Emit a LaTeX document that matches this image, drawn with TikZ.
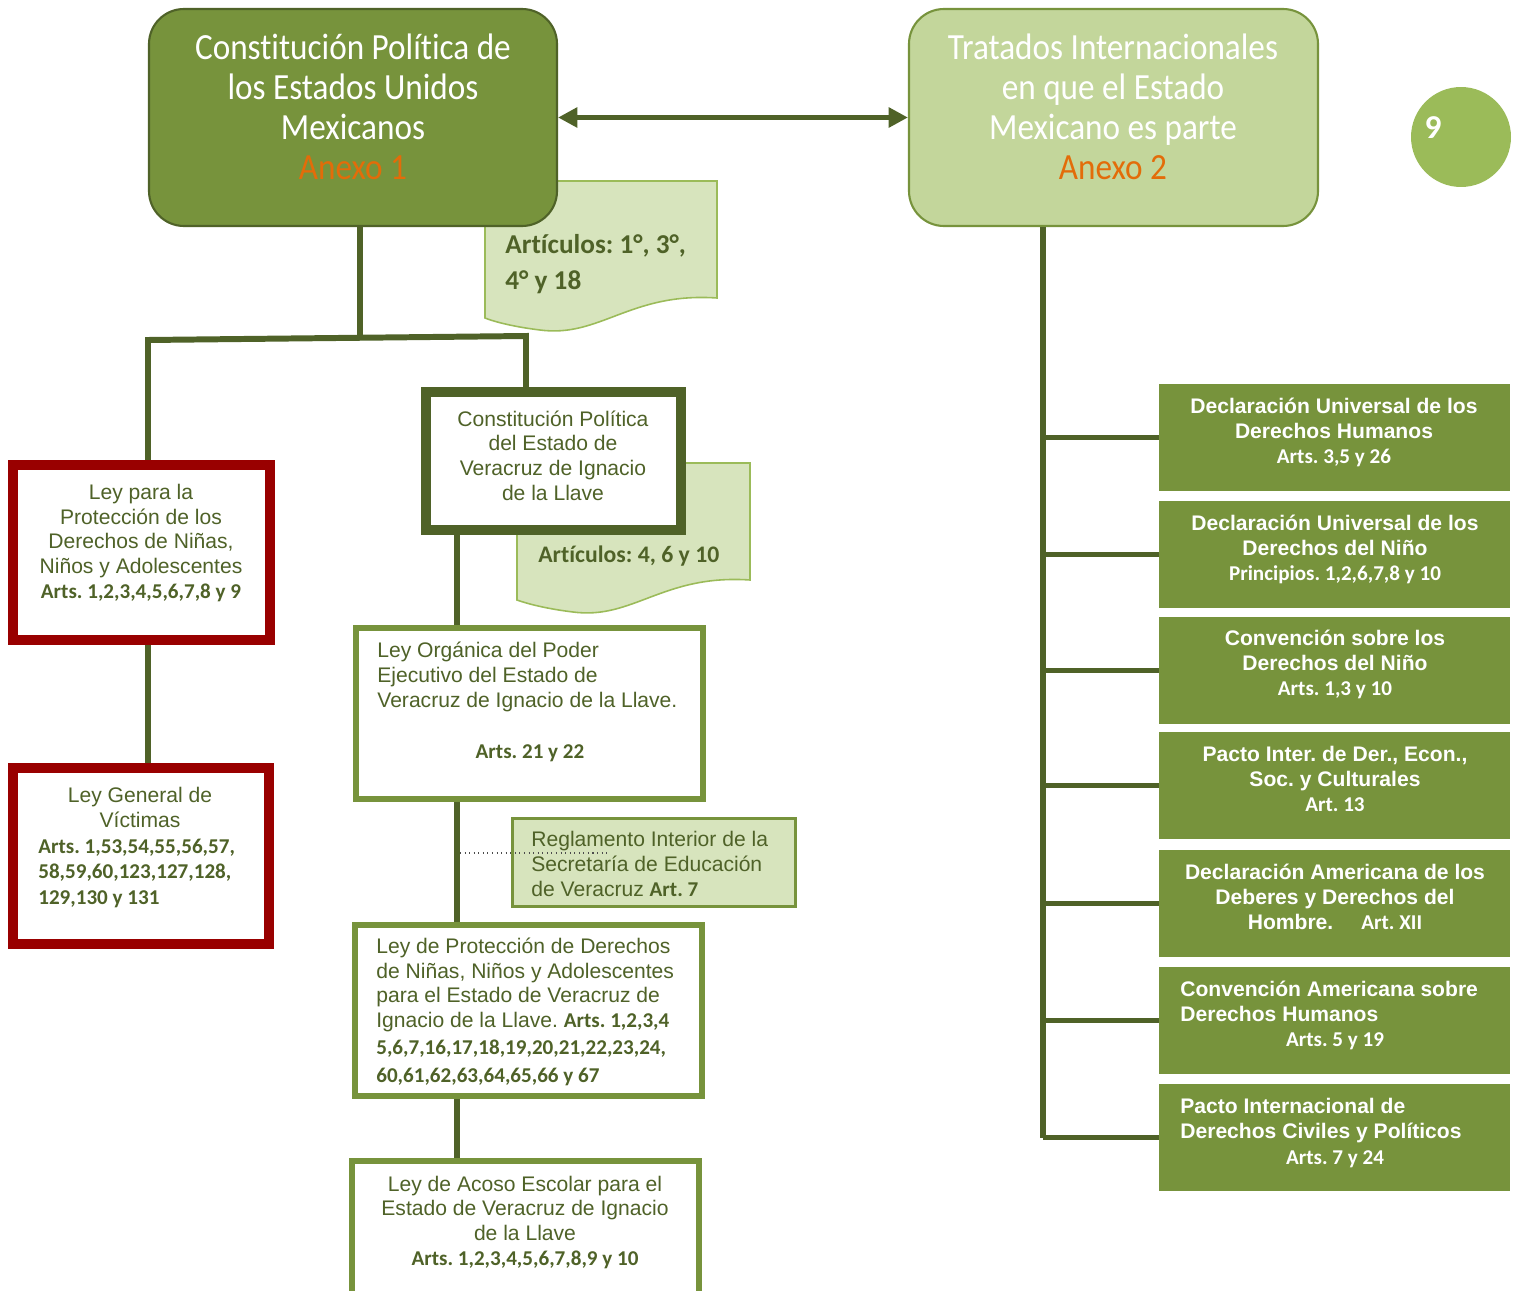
\documentclass[tikz,border=0pt]{standalone}
\usepackage{fontspec}
\setmainfont{Liberation Sans}
\newfontfamily\calfont[Ligatures=NoCommon]{Carlito}
\newfontfamily\condfont[FakeStretch=0.9,Ligatures=NoCommon]{Carlito}
\usetikzlibrary{arrows.meta,fit,positioning}
\frenchspacing

\definecolor{darkolive}{HTML}{4F6228}
\definecolor{leafgreen}{HTML}{77933C}
\definecolor{palegreen}{HTML}{C3D69B}
\definecolor{docgreen}{HTML}{D7E4BD}
\definecolor{limegreen}{HTML}{9BBB59}
\definecolor{anexo}{HTML}{E36C09}
\definecolor{lawred}{HTML}{990000}

\newcommand\artsbf[1]{{\calfont\bfseries #1}}

\tikzset{
  link/.style={draw=darkolive, line width=3.4pt},
  headbox/.style={rounded corners=0.7cm, line width=1.2pt, inner sep=0pt},
  headtxt/.style={text=white, align=center, inner sep=0pt, font=\condfont\fontsize{21}{22.7}\selectfont},
  redbox/.style={draw=lawred, line width=5.7pt, fill=white, inner sep=0pt},
  darkbox/.style={draw=darkolive, line width=5.7pt, fill=white, inner sep=0pt},
  lawbox/.style={draw=leafgreen, line width=3.2pt, fill=white, inner sep=0pt},
  lawtxt/.style={text=darkolive, align=center, inner sep=0pt, font=\fontsize{12}{14}\selectfont},
  doc/.style={fill=docgreen, draw=limegreen, line width=0.9pt},
  doctxt/.style={text=darkolive, align=left, inner sep=0pt, anchor=base west},
  treaty/.style={fill=leafgreen, minimum width=7.02cm, minimum height=2.14cm, inner sep=0pt, anchor=north west},
  treatytxt/.style={text=white, align=center, inner sep=0pt, anchor=base, font=\bfseries\fontsize{12}{14.2}\selectfont},
}

\begin{document}
\begin{tikzpicture}[x=0.02cm,y=-0.02cm]
\useasboundingbox (0,0) rectangle (1519,1291);

% hojas de articulos (detras de las cajas)
\draw[doc] (485,181) -- (717,181) -- (717,298) .. controls (630,292) and (600,338) .. (540,330) .. controls (515,327) and (495,322) .. (485,318) -- cycle;
\draw[doc] (517,463) -- (750,463) -- (750,580) .. controls (663,574) and (633,620) .. (573,612) .. controls (548,609) and (528,604) .. (517,600) -- cycle;
\node[doctxt, font=\calfont\bfseries\fontsize{15.5}{20.4}\selectfont] (art1) at (505,289) {Artículos: 1°, 3°,\\4° y 18};
\node[doctxt, font=\calfont\bfseries\fontsize{13.5}{16}\selectfont] (art2) at (538,562) {Artículos: 4, 6 y 10};

% cajas principales
\node[headbox, fill=leafgreen, draw=darkolive, fit={(149,9) (557,226)}] (cpeum) {};
\node[headbox, fill=palegreen, draw=leafgreen, fit={(909,9) (1318,226)}] (tratados) {};
\node[headtxt, anchor=base] (cpeumt) at (353,179) {Constitución Política de\\los Estados Unidos\\Mexicanos\\\textcolor{anexo}{Anexo 1}};
\node[headtxt, anchor=base] (tratadost) at (1113,179) {Tratados Internacionales\\en que el Estado\\Mexicano es parte\\\textcolor{anexo}{Anexo 2}};
\draw[link, line width=2.9pt, {Triangle[length=11pt,width=11pt]}-{Triangle[length=11pt,width=11pt]}] (cpeum.east) -- (tratados.west);

\node[circle, fill=limegreen, minimum size=2cm] (pagina) at (1461,137) {};
\node[text=white, font=\calfont\bfseries\fontsize{19}{19}\selectfont] (pnum) at (1433,128) {9};

% leyes
\node[redbox, fit={(13,465) (270,640)}] (ley1) {};
\node[redbox, fit={(13,768) (269,944)}] (vict) {};
\node[darkbox, fit={(426,392) (681,530)}] (vera) {};
\node[lawbox, fit={(356,628) (703,799)}] (organica) {};
\node[lawbox, fill=docgreen, line width=1.7pt, fit={(512.5,818.5) (795.5,906.5)}] (regla) {};
\node[lawbox, fit={(355,925) (702,1096)}] (proteccion) {};
\node[lawbox, fit={(352,1161) (699,1300)}] (acoso) {};

\node[lawtxt, anchor=base] (ley1t) at (141,598) {Ley para la\\Protección de los\\Derechos de Niñas,\\Niños y Adolescentes\\\artsbf{Arts. 1,2,3,4,5,6,7,8 y 9}};
\node[lawtxt, anchor=base] (victt) at (140,827) {Ley General de\\Víctimas};
\node[lawtxt, align=left, anchor=base west, font=\fontsize{12}{14.5}\selectfont] (victa) at (38,904) {\artsbf{Arts. 1,53,54,55,56,57,}\\\artsbf{58,59,60,123,127,128,}\\\artsbf{129,130 y 131}};
\node[lawtxt, anchor=base] (verat) at (553,500) {Constitución Política\\del Estado de\\Veracruz de Ignacio\\de la Llave};
\node[lawtxt, align=left, anchor=base west] (organicat) at (377,707) {Ley Orgánica del Poder\\Ejecutivo del Estado de\\Veracruz de Ignacio de la Llave.};
\node[lawtxt, anchor=base] (organicaa) at (530,758) {\artsbf{Arts. 21 y 22}};
\node[lawtxt, align=left, anchor=base west] (reglat) at (531,896) {Reglamento Interior de la\\Secretaría de Educación\\de Veracruz \artsbf{Art. 7}};
\node[lawtxt, align=left, anchor=base west] (protecciont) at (376,1082) {Ley de Protección de Derechos\\de Niñas, Niños y Adolescentes\\para el Estado de Veracruz de\\Ignacio de la Llave. \artsbf{Arts. 1,2,3,4}\\[1.5pt]\artsbf{5,6,7,16,17,18,19,20,21,22,23,24,}\\[1.5pt]\artsbf{60,61,62,63,64,65,66 y 67}};
\node[lawtxt, anchor=base] (acosot) at (525,1265) {Ley de Acoso Escolar para el\\Estado de Veracruz de Ignacio\\de la Llave\\\artsbf{Arts. 1,2,3,4,5,6,7,8,9 y 10}};

% ramas izquierda
\coordinate (trunkL) at (360,338);
\coordinate (armL) at (148,340);
\coordinate (armR) at (526,336);
\coordinate (spine) at (457,700);
\draw[link] (cpeum.south -| trunkL) -- (trunkL);
\draw[link] (ley1.north -| armL) -- (armL) -- (armR) -- (vera.north -| armR);
\draw[link] (ley1.south -| armL) -- (vict.north -| armL);
\draw[link] (vera.south -| spine) -- (organica.north -| spine);
\draw[link] (organica.south -| spine) -- (proteccion.north -| spine);
\draw[link] (proteccion.south -| spine) -- (acoso.north -| spine);
\coordinate (dotend) at (607,853);
\draw[dotted, black!70, line width=0.6pt] (dotend -| 460,0) -- (dotend);

% tratados
\foreach \n/\y in {1/384,2/501,3/617,4/732,5/850,6/967,7/1084}
  \node[treaty] (d\n) at (1159,\y) {};
\node[treatytxt] (d1t) at (1334,463) {Declaración Universal de los\\Derechos Humanos\\\artsbf{Arts. 3,5 y 26}};
\node[treatytxt] (d2t) at (1335,580) {Declaración Universal de los\\Derechos del Niño\\\artsbf{Principios. 1,2,6,7,8 y 10}};
\node[treatytxt] (d3t) at (1335,695) {Convención sobre los\\Derechos del Niño\\\artsbf{Arts. 1,3 y 10}};
\node[treatytxt] (d4t) at (1335,811) {Pacto Inter. de Der., Econ.,\\Soc. y Culturales\\\artsbf{Art. 13}};
\node[treatytxt] (d5t) at (1335,929) {Declaración Americana de los\\Deberes y Derechos del\\Hombre.\hspace{16pt}\artsbf{Art. XII}};
\node[treatytxt, align=left, anchor=base west] (d6t) at (1180,1021) {Convención Americana sobre\\Derechos Humanos};
\node[treatytxt] (d6a) at (1335,1046) {\artsbf{Arts. 5 y 19}};
\node[treatytxt, align=left, anchor=base west] (d7t) at (1180,1138) {Pacto Internacional de\\Derechos Civiles y Políticos};
\node[treatytxt] (d7a) at (1335,1164) {\artsbf{Arts. 7 y 24}};

\coordinate (spineR) at (1043,0);
\draw[link, line width=2.9pt] (tratados.south -| spineR) -- (spineR |- d7.west);
\foreach \n in {1,...,7}
  \draw[link, line width=2.9pt] (spineR |- d\n.west) -- (d\n.west);
\end{tikzpicture}
\end{document}
